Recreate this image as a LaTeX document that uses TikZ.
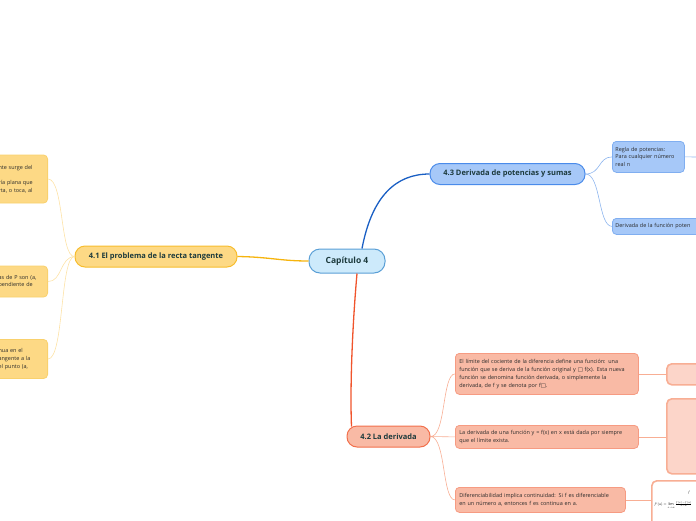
\documentclass[tikz,border=0pt]{standalone}
\usepackage{fontspec}
\setmainfont{Open Sans}
\newfontfamily\symfont{DejaVu Sans}
\usetikzlibrary{positioning, calc}
\usepackage{xcolor}
\definecolor{rootfill}{HTML}{CDEAFB}
\definecolor{rootline}{HTML}{5A9FD6}
\definecolor{bluefill}{HTML}{A6C8F8}
\definecolor{blueline}{HTML}{4A8BEA}
\definecolor{bluewire}{HTML}{1A5FC4}
\definecolor{bluelite}{HTML}{8DB5EE}
\definecolor{yelfill}{HTML}{FDD985}
\definecolor{yelline}{HTML}{F7BD2E}
\definecolor{yelwire}{HTML}{F6B40E}
\definecolor{yellite}{HTML}{FDE2A6}
\definecolor{redfill}{HTML}{F9BAA5}
\definecolor{redline}{HTML}{F2704C}
\definecolor{redwire}{HTML}{F0542C}
\definecolor{redlite}{HTML}{F8AE94}
\definecolor{imgfill}{HTML}{FCD5C9}
\definecolor{topictext}{HTML}{1C3A3C}
\definecolor{leaftext}{HTML}{2A2A2A}

\tikzset{
  rootbox/.style={draw=rootline, line width=1pt, fill=rootfill, rounded corners=11pt,
    minimum width=76pt, minimum height=24pt, inner sep=0pt,
    font=\fontsize{8.5}{10}\selectfont\bfseries, text=topictext},
  topicbox/.style={draw=#1line, line width=1pt, fill=#1fill, rounded corners=10pt,
    minimum height=21pt, inner sep=0pt,
    font=\fontsize{7.5}{9}\selectfont\bfseries, text=topictext},
  leafbox/.style={draw=#1line!70!white, line width=0.8pt, fill=#1fill, rounded corners=4pt,
    anchor=north west, align=left, inner xsep=4pt, inner ysep=0pt,
    font=\fontsize{5.45}{7.8}\selectfont, text=leaftext},
  imgbox/.style={draw=redlite, line width=1.6pt, fill=#1, rounded corners=5pt,
    anchor=north west, inner sep=0pt},
  mainwire/.style={line width=1.3pt},
  leafwire/.style={line width=0.6pt},
}

\begin{document}
\begin{tikzpicture}[x=1pt, y=-1pt]
  \useasboundingbox (0,0) rectangle (696,520);
  \clip (0,0) rectangle (696,520);

  % main topics
  \node[rootbox] (root) at (347,261) {Capítulo 4};
  \node[topicbox=blue, minimum width=155pt] (t43) at (507.5,174) {4.3 Derivada de potencias y sumas};
  \node[topicbox=yel, minimum width=162pt] (t41) at (156,256.5) {4.1 El problema de la recta tangente};
  \node[topicbox=red, minimum width=83pt] (t42) at (388.5,436.5) {4.2 La derivada};

  % 4.3
  \node[leafbox=blue, text width=66pt, inner xsep=3pt, minimum height=31pt] (regla) at (612,141)
    {Regla de potencias:\\Para cualquier número\\real n};
  \node[leafbox=blue, text width=94pt, inner xsep=3pt, minimum height=16pt] (poten) at (612,218)
    {Derivada de la función poten};

  % 4.2
  \node[leafbox=red, text width=175pt, minimum height=41pt] (lim) at (455,353)
    {El límite del cociente de la diferencia define una función: una\\
     función que se deriva de la función original y {\symfont□} f(x). Esta nueva\\
     función se denomina función derivada, o simplemente la\\
     derivada, de f y se denota por f{\symfont□}.};
  \node[leafbox=red, text width=175pt, minimum height=23pt] (dada) at (455,425)
    {La derivada de una función y = f(x) en x está dada por siempre\\
     que el límite exista.};
  \node[leafbox=red, text width=162pt, minimum height=25pt] (dif) at (455,487)
    {Diferenciabilidad implica continuidad: Si f es diferenciable\\
     en un número a, entonces f es continua en a.};
  \node[imgbox=imgfill, minimum width=45pt, minimum height=21pt] (img1) at (666,363) {};
  \node[imgbox=imgfill, minimum width=45pt, minimum height=75pt] (img2) at (666,398) {};
  \node[imgbox=white, minimum width=60pt, minimum height=50pt] (img3) at (651,480) {};
  \node[font=\footnotesize, scale=0.45, anchor=west, inner sep=0pt] (frm) at (654,505)
    {$f'(a)=\lim\limits_{x\to a}\frac{f(x)-f(a)}{x-a}$};
  \node[font=\footnotesize, scale=0.45, inner sep=0pt] (frmf) at (689,493) {$f$};

  % 4.1
  \node[leafbox=yel, anchor=east, text width=46pt, inner xsep=3pt, minimum height=48pt] (c1) at (48,179)
    {nte surge del\\[7.8pt]ría plana que\\rta, o toca, al};
  \node[leafbox=yel, anchor=east, text width=46pt, inner xsep=3pt, minimum height=31pt] (c2) at (48,281.5)
    {as de P son (a,\\ pendiente de};
  \node[leafbox=yel, anchor=east, text width=46pt, inner xsep=3pt, minimum height=39pt] (c3) at (48,359)
    {nua en el\\angente a la\\el punto (a,};
  \coordinate (edge) at (700,157);

  % connectors
  \draw[mainwire, bluewire] ($(root.north)+(15,0)$) .. controls (372,196) and (396,174) .. (t43.west);
  \draw[mainwire, yelwire] (t41.east) .. controls (270,257) and (280,261) .. (root.west);
  \draw[mainwire, redwire] ($(root.south)+(10,0)$) .. controls (352,330) and (350,390) .. ($(t42.north west)+(5,1)$);

  \draw[leafwire, bluelite] (t43.east) .. controls (601,174) and (598,157) .. (regla.west);
  \draw[leafwire, bluelite] (t43.east) .. controls (601,174) and (598,226) .. (poten.west);
  \draw[leafwire, bluelite] (regla.east) -- (edge);

  \draw[leafwire, redlite] (t42.east) .. controls (446,437) and (442,374) .. (lim.west);
  \draw[leafwire, redlite] (t42.east) -- (dada.west);
  \draw[leafwire, redlite] (t42.east) .. controls (446,437) and (442,500) .. (dif.west);
  \draw[leafwire, redlite] (lim.east) -- (lim.east -| img1.west);
  \draw[leafwire, redlite] (dada.east) -- (dada.east -| img2.west);
  \draw[leafwire, redlite] (dif.east) -- (dif.east -| img3.west);

  \draw[leafwire, yellite] (t41.west) .. controls (60,257) and (64,179) .. (c1.east);
  \draw[leafwire, yellite] (t41.west) .. controls (60,257) and (62,282) .. (c2.east);
  \draw[leafwire, yellite] (t41.west) .. controls (60,257) and (64,359) .. (c3.east);
\end{tikzpicture}
\end{document}
